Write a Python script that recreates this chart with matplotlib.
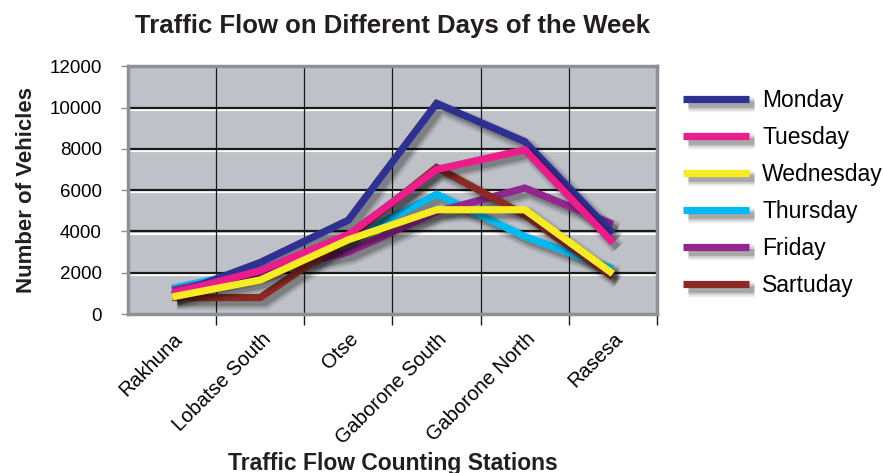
import matplotlib
matplotlib.use("Agg")
import matplotlib.pyplot as plt
import matplotlib.patheffects as pe
from matplotlib.transforms import ScaledTranslation

plt.rcParams['font.family'] = ['Liberation Sans', 'DejaVu Sans']

stations = ['Rakhuna', 'Lobatse South', 'Otse', 'Gaborone South', 'Gaborone North', 'Rasesa']
days = ['Monday', 'Tuesday', 'Wednesday', 'Thursday', 'Friday', 'Sartuday']
monday = [900, 2500, 4550, 10200, 8350, 3900]
tuesday = [1000, 2100, 3850, 7000, 7950, 3450]
wednesday = [830, 1650, 3600, 5050, 5050, 1950]
thursday = [1250, 2150, 3600, 5800, 3750, 2200]
friday = [1150, 2050, 3000, 4950, 6100, 4350]
saturday = [800, 800, 3700, 7100, 4800, 1800]
series = [monday, tuesday, wednesday, thursday, friday, saturday]
colors = ['#2E3192', '#EC1C8C', '#F7EC23', '#00B9EE', '#92278F', '#8B2A24']
# drawing order, bottom first
order = [3, 4, 0, 5, 1, 2]
yticks = [0, 2000, 4000, 6000, 8000, 10000, 12000]

fig = plt.figure(figsize=(8.83, 4.73), dpi=100)
ax = fig.add_axes([0.145, 0.336, 0.599, 0.524])
ax.set_facecolor('#BEC1C8')

x = list(range(len(stations)))
ax.set_xlim(-0.5, len(stations) - 0.5)
ax.set_ylim(0, 12000)

# embossed horizontal gridlines
for v in yticks[1:-1]:
    ax.axhline(v, color='#1a1a1a', lw=1.6, zorder=1,
               path_effects=[pe.SimpleLineShadow(offset=(0, -1.6), shadow_color='white', alpha=1.0),
                             pe.Normal()])
for b in range(1, len(stations)):
    ax.axvline(b - 0.5, color='#1a1a1a', lw=0.9, zorder=1)

shadow = [pe.SimpleLineShadow(offset=(3.5, -3.5), shadow_color='k', alpha=0.08, linewidth=11),
          pe.SimpleLineShadow(offset=(3.5, -3.5), shadow_color='k', alpha=0.12, linewidth=8),
          pe.SimpleLineShadow(offset=(3.5, -3.5), shadow_color='k', alpha=0.18, linewidth=5),
          pe.Normal()]
lines = {}
for i in order:
    lines[i], = ax.plot(x, series[i], color=colors[i], lw=5.2, label=days[i],
                        solid_joinstyle='miter', solid_capstyle='butt',
                        zorder=3 + order.index(i), path_effects=shadow)

for s in ax.spines.values():
    s.set_color('#8C9198')
    s.set_linewidth(2.5)

ax.set_yticks(yticks)
ax.tick_params(axis='y', labelsize=13.5, length=5, color='#8C9198', width=1, pad=14)
ax.set_xticks(x)
ax.set_xticks([b - 0.5 for b in range(1, len(stations) + 1)], minor=True)
ax.tick_params(axis='x', which='major', length=0, pad=11)
ax.tick_params(axis='x', which='minor', length=8, color='#1a1a1a', width=1)
ax.set_xticklabels(stations, rotation=45, ha='right', fontsize=14.5)
for lab in ax.get_xticklabels():
    lab.set_transform(lab.get_transform() + ScaledTranslation(0.14, 0, fig.dpi_scale_trans))

ax.set_title('Traffic Flow on Different Days of the Week', fontsize=18.5,
             fontweight='bold', pad=24, color='#231F20')
ax.set_ylabel('Number of Vehicles', fontsize=16, fontweight='bold', labelpad=9, color='#231F20')
ax.set_xlabel('Traffic Flow Counting Stations', fontsize=16.5, fontweight='bold', color='#231F20')
ax.xaxis.set_label_coords(0.5, -0.555)

handles = [lines[i] for i in range(len(days))]
ax.legend(handles, days, loc='upper left', bbox_to_anchor=(0.7735, 0.812),
          bbox_transform=fig.transFigure, frameon=False, fontsize=16.5,
          handlelength=2.9, handletextpad=0.55, labelspacing=0.61,
          borderpad=0, borderaxespad=0)

fig.savefig('out.png', dpi=100)
